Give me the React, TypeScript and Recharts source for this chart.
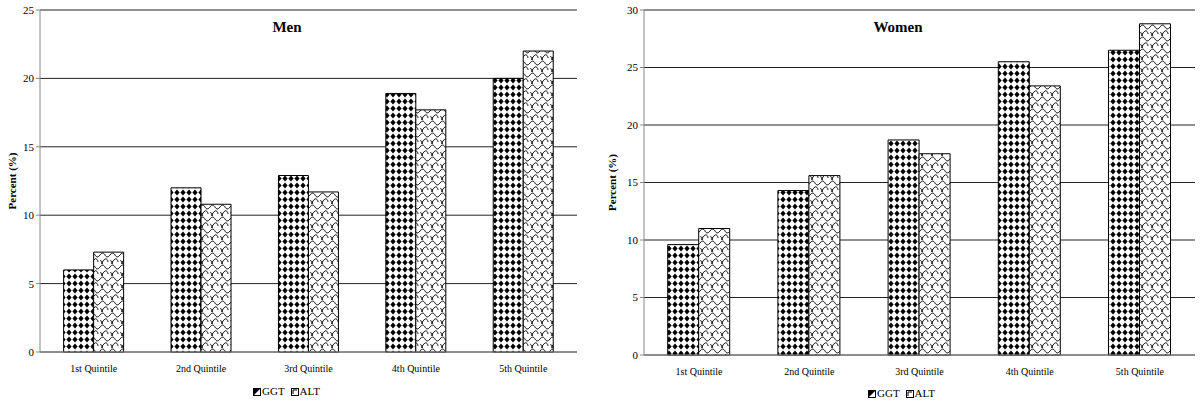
import React from "react";
import {
    BarChart,
    Bar,
    XAxis,
    YAxis,
    CartesianGrid,
} from "recharts";

const quintiles = ["1st Quintile", "2nd Quintile", "3rd Quintile", "4th Quintile", "5th Quintile"];
const menGGT = [6.0, 12.0, 12.9, 18.9, 20.0];
const menALT = [7.3, 10.8, 11.7, 17.7, 22.0];
const womenGGT = [9.6, 14.3, 18.7, 25.5, 26.5];
const womenALT = [11.0, 15.6, 17.5, 23.4, 28.8];
const menTicks = [0, 5, 10, 15, 20, 25];
const womenTicks = [0, 5, 10, 15, 20, 25, 30];
const boundaryTicks = [0, 1, 2, 3, 4, 5];

const serif = "'Liberation Serif', 'Times New Roman', serif";

const menData = quintiles.map((q, i) => ({ name: q, GGT: menGGT[i], ALT: menALT[i] }));
const womenData = quintiles.map((q, i) => ({ name: q, GGT: womenGGT[i], ALT: womenALT[i] }));

const Patterns: React.FC<{ id: string }> = ({ id }) => (
    <defs>
        <pattern id={`ggt-${id}`} width="6" height="7" patternUnits="userSpaceOnUse">
            <rect width="6" height="7" fill="#fff" />
            <polygon points="3,0.4 5.6,3.5 3,6.6 0.4,3.5" fill="#000" />
        </pattern>
        <pattern id={`alt-${id}`} width="10" height="12" patternUnits="userSpaceOnUse">
            <rect width="10" height="12" fill="#fff" />
            <path
                d="M0,3 C2,0 4,1 5,3 C6,5 8,6 10,3 M2,12 C2,9 4,8 5,7 C6,6 8,8 8,10 M0,9 C1,8 2,9 2,12"
                fill="none"
                stroke="#000"
                strokeWidth="1"
            />
        </pattern>
    </defs>
);

const Swatch: React.FC<{ kind: "ggt" | "alt" }> = ({ kind }) => (
    <svg width="8" height="8" style={{ marginRight: 1, verticalAlign: "-0.5px" }}>
        <rect x="0.5" y="0.5" width="7" height="7" fill="#fff" stroke="#000" />
        {kind === "ggt" ? (
            <polygon points="0.5,0.5 7.5,0.5 0.5,7.5" fill="#000" />
        ) : (
            <path d="M2,6 L2,2 L6,2" fill="none" stroke="#000" />
        )}
    </svg>
);

const yLabel = (props: any) => {
    const { viewBox } = props;
    const x = viewBox.x + 12;
    const y = viewBox.y + viewBox.height / 2;
    return (
        <text
            x={x}
            y={y}
            transform={`rotate(-90, ${x}, ${y})`}
            textAnchor="middle"
            dominantBaseline="central"
            fontFamily={serif}
            fontSize={11}
            fontWeight="bold"
            fill="#000"
        >
            Percent (%)
        </text>
    );
};

interface PanelProps {
    id: string;
    title: string;
    data: { name: string; GGT: number; ALT: number }[];
    ticks: number[];
    max: number;
    yWidth: number;
    right: number;
    xHeight: number;
    titleX: number;
    legendLeft: number;
    legendTop: number;
    gap: string;
}

const Panel: React.FC<PanelProps> = ({ id, title, data, ticks, max, yWidth, right, xHeight, titleX, legendLeft, legendTop, gap }) => (
    <div style={{ position: "relative", width: 600, height: 405 }}>
        <BarChart
            width={600}
            height={405}
            data={data}
            margin={{ top: 10, right, left: 0, bottom: 0 }}
            barGap={0}
            barCategoryGap={gap}
        >
            <Patterns id={id} />
            <CartesianGrid vertical={false} stroke="#222" strokeWidth={1} />
            <XAxis
                dataKey="name"
                tickLine={false}
                axisLine={{ stroke: "#888" }}
                tickSize={0}
                tickMargin={13}
                height={xHeight}
                tick={{ fontFamily: serif, fontSize: 10, fill: "#000" }}
                interval={0}
            />
            <XAxis
                xAxisId="b"
                type="number"
                domain={[0, 5]}
                ticks={boundaryTicks}
                tick={false}
                axisLine={false}
                tickLine={{ stroke: "#888" }}
                tickSize={4}
                height={0}
            />
            <YAxis
                width={yWidth}
                domain={[0, max]}
                ticks={ticks}
                interval={0}
                axisLine={{ stroke: "#888" }}
                tickLine={{ stroke: "#888" }}
                tickSize={4}
                tick={{ fontFamily: serif, fontSize: 11, fill: "#000" }}
                label={yLabel}
            />
            <Bar dataKey="GGT" fill={`url(#ggt-${id})`} stroke="#000" strokeWidth={1} isAnimationActive={false} />
            <Bar dataKey="ALT" fill={`url(#alt-${id})`} stroke="#000" strokeWidth={1} isAnimationActive={false} />
        </BarChart>
        <div
            style={{
                position: "absolute",
                left: titleX - 50,
                width: 100,
                top: 19,
                textAlign: "center",
                fontFamily: serif,
                fontSize: 15,
                fontWeight: "bold",
                color: "#000",
            }}
        >
            {title}
        </div>
        <div
            style={{
                position: "absolute",
                left: legendLeft,
                top: legendTop,
                fontFamily: serif,
                fontSize: 11,
                color: "#000",
                whiteSpace: "nowrap",
            }}
        >
            <Swatch kind="ggt" />
            <span style={{ marginRight: 6 }}>GGT</span>
            <Swatch kind="alt" />
            <span>ALT</span>
        </div>
    </div>
);

const App: React.FC = () => (
    <div style={{ position: "absolute", left: 0, top: 0, width: 1200, height: 405, background: "#fff", display: "flex" }}>
        <Panel
            id="men"
            title="Men"
            data={menData}
            ticks={menTicks}
            max={25}
            yWidth={40}
            right={23}
            xHeight={53}
            titleX={287}
            legendLeft={253}
            legendTop={385}
            gap="22%"
        />
        <Panel
            id="women"
            title="Women"
            data={womenData}
            ticks={womenTicks}
            max={30}
            yWidth={44}
            right={5}
            xHeight={50}
            titleX={298}
            legendLeft={268}
            legendTop={387}
            gap="21.5%"
        />
    </div>
);

export default App;
